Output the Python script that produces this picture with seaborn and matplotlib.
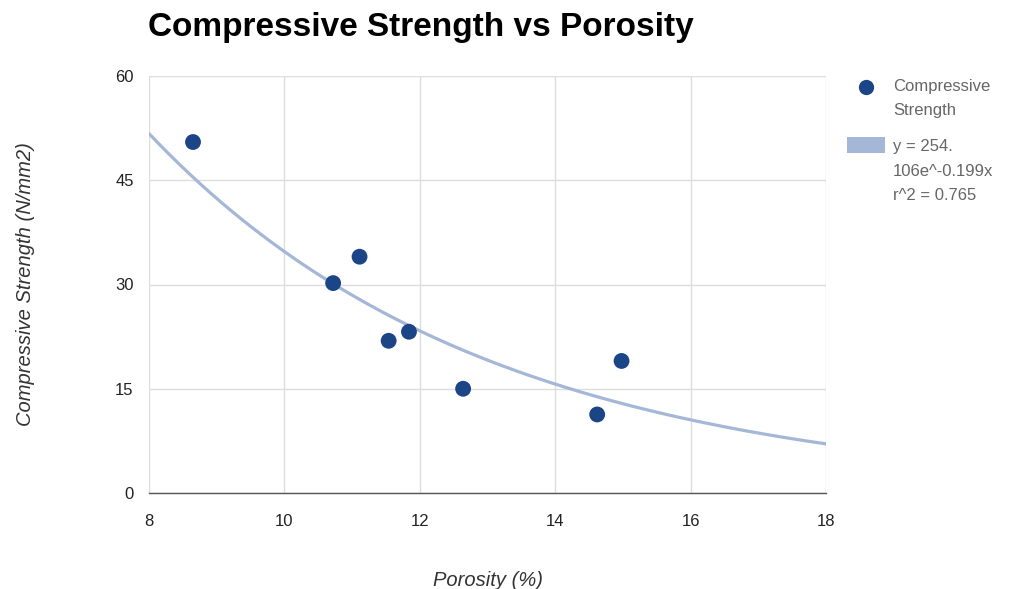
import numpy as np
import pandas as pd
import matplotlib
matplotlib.use("Agg")
import matplotlib.pyplot as plt
from matplotlib.patches import Rectangle
from matplotlib.lines import Line2D
import seaborn as sns

# Data
porosity = [8.65, 10.72, 11.11, 11.54, 11.84, 12.64, 14.62, 14.98]
strength = [50.5, 30.2, 34.0, 21.9, 23.2, 15.0, 11.3, 19.0]
# Trendline coefficients shown in legend: y = 254.106 e^(-0.199 x)
trend_a = 254.106
trend_b = -0.199
x_ticks = [8, 10, 12, 14, 16, 18]
y_ticks = [0, 15, 30, 45, 60]
legend_lines_1 = ["Compressive", "Strength"]
legend_lines_2 = ["y = 254.", "106e^-0.199x", "r^2 = 0.765"]

sns.set_theme(style="white")
plt.rcParams['font.family'] = ['Liberation Sans', 'DejaVu Sans']

W, H = 1022, 589
fig = plt.figure(figsize=(W / 100, H / 100), dpi=100)
ax = fig.add_axes([149 / W, 1 - 493 / H, (826 - 149) / W, (493 - 76) / H])

xs = np.linspace(x_ticks[0], x_ticks[-1], 200)
trend = pd.DataFrame({"x": xs, "y": trend_a * np.exp(trend_b * xs)})
df = pd.DataFrame({"Porosity": porosity, "Strength": strength})

trend_color = "#a5b7d6"
pt_color = "#1c4587"

sns.lineplot(data=trend, x="x", y="y", ax=ax, color=trend_color, linewidth=2.3, zorder=2)
sns.scatterplot(data=df, x="Porosity", y="Strength", ax=ax, color=pt_color, s=130,
                edgecolor="none", zorder=3)

ax.set_xlim(x_ticks[0], x_ticks[-1])
ax.set_ylim(y_ticks[0], y_ticks[-1])
ax.set_xticks(x_ticks)
ax.set_yticks(y_ticks)
ax.grid(True, color="#dddddd", linewidth=1)
ax.set_axisbelow(True)
for s in ["top", "right", "left"]:
    ax.spines[s].set_visible(False)
ax.spines["bottom"].set_color("#555555")
ax.spines["bottom"].set_linewidth(1)
ax.tick_params(axis="both", length=0, labelsize=12, colors="#222222")
ax.tick_params(axis="x", pad=15)
ax.tick_params(axis="y", pad=11)
ax.set_xlabel("Porosity (%)", fontsize=14.5, style="italic", color="#333333", labelpad=30)
ax.set_ylabel("Compressive Strength (N/mm2)", fontsize=14.5, style="italic", color="#333333",
              labelpad=58)

fig.text(148 / W, 1 - 36 / H, "Compressive Strength vs Porosity", fontsize=24,
         fontweight="bold", color="#000000", ha="left", va="baseline")

# Legend (manual)
fig.add_artist(Line2D([866 / W], [1 - 87 / H], marker="o", markersize=11,
                      color=pt_color, markeredgewidth=0, linestyle="none",
                      transform=fig.transFigure))
for txt, yc in zip(legend_lines_1, [86, 110]):
    fig.text(893 / W, 1 - yc / H, txt, fontsize=12, color="#666666", ha="left", va="center")
fig.add_artist(Rectangle((847 / W, 1 - 153 / H), 38 / W, 16 / H,
                         facecolor=trend_color, edgecolor="none",
                         transform=fig.transFigure))
for txt, yc in zip(legend_lines_2, [147, 172, 196]):
    fig.text(893 / W, 1 - yc / H, txt, fontsize=12, color="#666666", ha="left", va="center")

fig.savefig("out.png", dpi=100, facecolor="white")
